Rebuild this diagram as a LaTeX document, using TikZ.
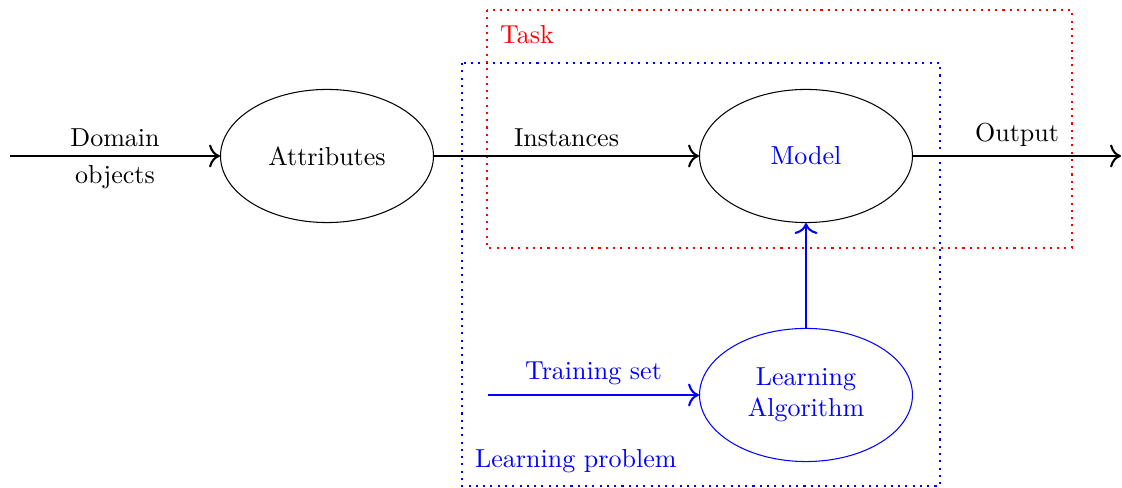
\documentclass[tikz,border=0pt]{standalone}
\usetikzlibrary{shapes.geometric,arrows.meta}
\begin{document}
\begin{tikzpicture}[x=0.3846pt,y=-0.3846pt,
  >={To[scale=1.25]},
  blob/.style={ellipse,draw,minimum width=81.9pt,minimum height=51.2pt,inner sep=0pt,align=center},
  flow/.style={->,thick},
  frame/.style={thick,dotted}]
\useasboundingbox (0,0) rectangle (1122,488);

% regions
\draw[frame,blue] (462,63) rectangle (940,486);
\draw[frame,red] (487,10) rectangle (1072,248);
\node[red,anchor=west] (tasklbl) at (491,35) {Task};
\node[blue,anchor=west] (problbl) at (466,461) {Learning problem};

% nodes
\node[blob] (attr) at (327,156) {Attributes};
\node[blob,text=blue] (model) at (806,156) {Model};
\node[blob,draw=blue,text=blue] (algo) at (806,395) {Learning\\Algorithm};
\coordinate (src) at (10,156);
\coordinate (out) at (1121,156);
\coordinate (train) at (488,395);

% connectors
\draw[flow] (src) -- node[above] {Domain} node[below] {objects} (attr);
\draw[flow] (attr) -- node[above] {Instances} (model);
\draw[flow] (model) -- node[above] {Output} (out);
\draw[flow,blue] (train) -- node[above] {Training set} (algo);
\draw[flow,blue] (algo) -- (model);
\end{tikzpicture}
\end{document}
